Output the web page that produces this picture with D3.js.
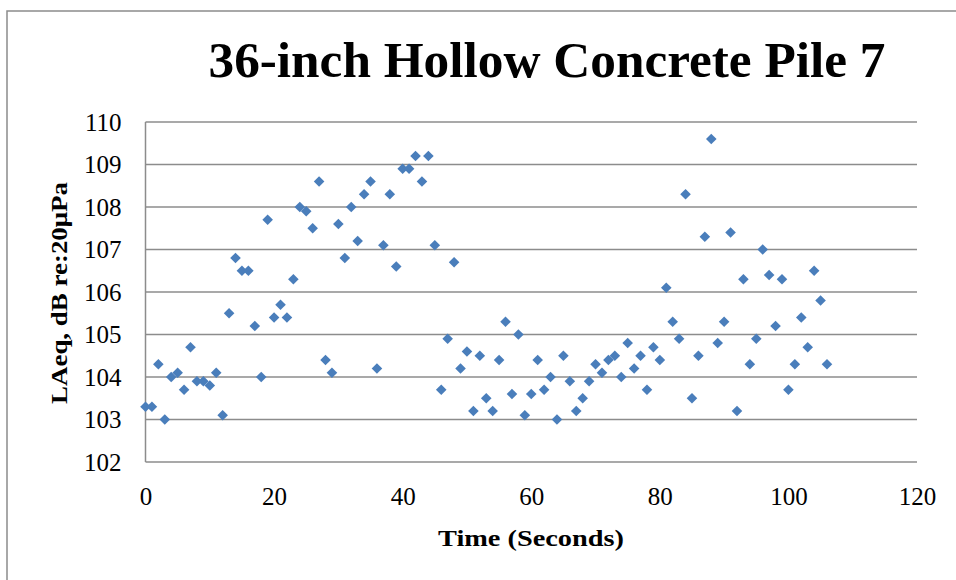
<!DOCTYPE html>
<html>
<head>
<meta charset="utf-8">
<script src="https://cdn.jsdelivr.net/npm/d3@7"></script>
<style>
  html, body { margin: 0; padding: 0; background: #fff; }
  svg { display: block; }
</style>
</head>
<body>
<svg id="chart" width="956" height="580"></svg>
<script>
const title = "36-inch Hollow Concrete Pile 7";
const xAxisTitle = "Time (Seconds)";
const yAxisTitle = "LAeq, dB re:20μPa";
const xTicks = [0, 20, 40, 60, 80, 100, 120];
const yTicks = [102, 103, 104, 105, 106, 107, 108, 109, 110];
const timeSeconds = d3.range(0, 107);
const laeq = [
  103.3, 103.3, 104.3, 103.0, 104.0, 104.1, 103.7, 104.7, 103.9, 103.9,
  103.8, 104.1, 103.1, 105.5, 106.8, 106.5, 106.5, 105.2, 104.0, 107.7,
  105.4, 105.7, 105.4, 106.3, 108.0, 107.9, 107.5, 108.6, 104.4, 104.1,
  107.6, 106.8, 108.0, 107.2, 108.3, 108.6, 104.2, 107.1, 108.3, 106.6,
  108.9, 108.9, 109.2, 108.6, 109.2, 107.1, 103.7, 104.9, 106.7, 104.2,
  104.6, 103.2, 104.5, 103.5, 103.2, 104.4, 105.3, 103.6, 105.0, 103.1,
  103.6, 104.4, 103.7, 104.0, 103.0, 104.5, 103.9, 103.2, 103.5, 103.9,
  104.3, 104.1, 104.4, 104.5, 104.0, 104.8, 104.2, 104.5, 103.7, 104.7,
  104.4, 106.1, 105.3, 104.9, 108.3, 103.5, 104.5, 107.3, 109.6, 104.8,
  105.3, 107.4, 103.2, 106.3, 104.3, 104.9, 107.0, 106.4, 105.2, 106.3,
  103.7, 104.3, 105.4, 104.7, 106.5, 105.8, 104.3
];
const points = timeSeconds.map((t, i) => ({ t: t, v: laeq[i] }));

const svg = d3.select("#chart");
const serif = "'Liberation Serif', 'DejaVu Serif', serif";
const gridColor = "#8c8c8c";

// outer chart border
svg.append("rect")
  .attr("x", 7).attr("y", 11)
  .attr("width", 960).attr("height", 600)
  .attr("fill", "none").attr("stroke", gridColor).attr("stroke-width", 1.5);

const plotLeft = 145.5, plotRight = 917, plotTop = 122, plotBottom = 462;
const x = d3.scaleLinear().domain([0, 120]).range([plotLeft, plotRight]);
const y = d3.scaleLinear().domain([102, 110]).range([plotBottom, plotTop]);

// horizontal gridlines
svg.append("g").selectAll("line").data(yTicks).join("line")
  .attr("x1", plotLeft).attr("x2", plotRight)
  .attr("y1", d => y(d)).attr("y2", d => y(d))
  .attr("stroke", gridColor).attr("stroke-width", 1.5);

// left axis line
svg.append("line")
  .attr("x1", plotLeft).attr("x2", plotLeft).attr("y1", plotTop).attr("y2", plotBottom)
  .attr("stroke", gridColor).attr("stroke-width", 1.5);

// y tick labels
const yAxis = d3.axisLeft(y).tickValues(yTicks).tickSize(0).tickPadding(24).tickFormat(d3.format("d"));
const gy = svg.append("g").attr("transform", `translate(${plotLeft},0)`).call(yAxis);
gy.select(".domain").remove();
gy.selectAll("text").attr("font-family", serif).attr("font-size", 25).attr("fill", "#000");

// x tick labels
const xAxis = d3.axisBottom(x).tickValues(xTicks).tickSize(0).tickPadding(25).tickFormat(d3.format("d"));
const gx = svg.append("g").attr("transform", `translate(0,${plotBottom})`).call(xAxis);
gx.select(".domain").remove();
gx.selectAll("text").attr("font-family", serif).attr("font-size", 25).attr("fill", "#000");

// markers
const diamond = d3.symbol().type(d3.symbolSquare).size(56);
svg.append("g").selectAll("path").data(points).join("path")
  .attr("d", diamond)
  .attr("transform", d => `translate(${x(d.t)},${y(d.v)}) rotate(45)`)
  .attr("fill", "#4a7ebb");

// title
svg.append("text")
  .attr("x", 547).attr("y", 77)
  .attr("text-anchor", "middle")
  .attr("font-family", serif).attr("font-weight", "bold").attr("font-size", 51)
  .attr("textLength", 677).attr("lengthAdjust", "spacingAndGlyphs")
  .text(title);

// x axis title
svg.append("text")
  .attr("x", 531).attr("y", 546)
  .attr("text-anchor", "middle")
  .attr("font-family", serif).attr("font-weight", "bold").attr("font-size", 24)
  .attr("textLength", 186).attr("lengthAdjust", "spacingAndGlyphs")
  .text(xAxisTitle);

// y axis title
svg.append("text")
  .attr("transform", "translate(67,293) rotate(-90)")
  .attr("text-anchor", "middle")
  .attr("font-family", serif).attr("font-weight", "bold").attr("font-size", 24)
  .attr("textLength", 222).attr("lengthAdjust", "spacingAndGlyphs")
  .text(yAxisTitle);
</script>
</body>
</html>
